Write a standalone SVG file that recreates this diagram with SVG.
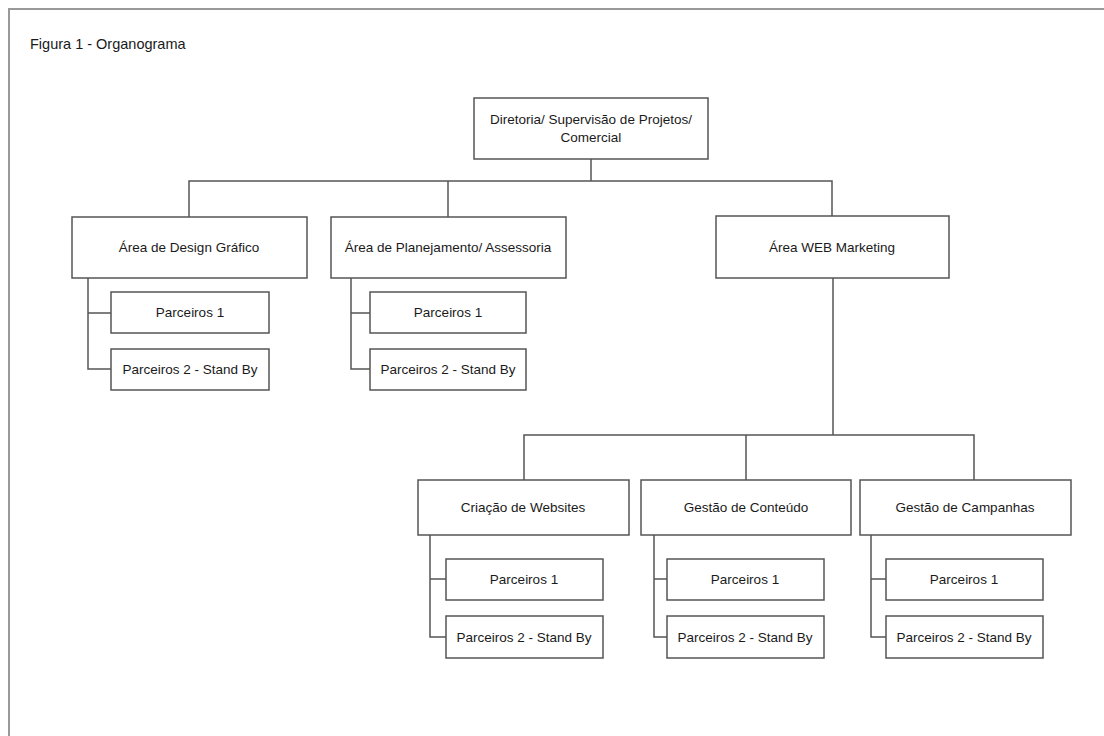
<svg xmlns="http://www.w3.org/2000/svg" width="1104" height="736" viewBox="0 0 1104 736">
<style>
.box{fill:#fff;stroke:#555;stroke-width:1.5}
.ln{fill:none;stroke:#555;stroke-width:1.5}
text{font-family:"Liberation Sans",Arial,sans-serif;font-size:13.5px;fill:#1a1a1a;text-anchor:middle;dominant-baseline:central}
</style>
<rect x="0" y="0" width="1104" height="736" fill="#fff"/>
<rect x="9" y="9" width="1110" height="740" fill="none" stroke="#999" stroke-width="2"/>
<text x="30" y="44" style="text-anchor:start;font-size:14.5px">Figura 1 - Organograma</text>
<g id="connectors">
<path class="ln" d="M591 159V181M189 217V181H832V217M448 181V217"/>
<path class="ln" d="M833 278V435M524 480V435H974V480M746 435V480"/>
<path class="ln" d="M88 278V369H111M88 313H111"/>
<path class="ln" d="M351 278V369H370M351 313H370"/>
<path class="ln" d="M430 535V637H446M430 579H446"/>
<path class="ln" d="M654 535V637H667M654 579H667"/>
<path class="ln" d="M871 535V637H886M871 579H886"/>
</g>
<g id="root"><rect class="box" x="474" y="98" width="234" height="61"/><text x="591" y="119">Diretoria/ Supervisão de Projetos/</text><text x="591" y="137">Comercial</text></g>
<g id="design"><rect class="box" x="72" y="217" width="235" height="61"/><text x="189" y="247">Área de Design Gráfico</text></g>
<g id="design-p1"><rect class="box" x="111" y="292" width="158" height="41"/><text x="190" y="312">Parceiros 1</text></g>
<g id="design-p2"><rect class="box" x="111" y="349" width="158" height="41"/><text x="190" y="369">Parceiros 2 - Stand By</text></g>
<g id="plan"><rect class="box" x="331" y="217" width="235" height="61"/><text x="448" y="247">Área de Planejamento/ Assessoria</text></g>
<g id="plan-p1"><rect class="box" x="370" y="292" width="156" height="41"/><text x="448" y="312">Parceiros 1</text></g>
<g id="plan-p2"><rect class="box" x="370" y="349" width="156" height="41"/><text x="448" y="369">Parceiros 2 - Stand By</text></g>
<g id="web"><rect class="box" x="716" y="216" width="233" height="62"/><text x="832" y="247">Área WEB Marketing</text></g>
<g id="sites"><rect class="box" x="418" y="480" width="211" height="55"/><text x="523" y="507">Criação de Websites</text></g>
<g id="sites-p1"><rect class="box" x="446" y="559" width="157" height="41"/><text x="524" y="579">Parceiros 1</text></g>
<g id="sites-p2"><rect class="box" x="446" y="616" width="157" height="42"/><text x="524" y="637">Parceiros 2 - Stand By</text></g>
<g id="conteudo"><rect class="box" x="641" y="480" width="210" height="55"/><text x="746" y="507">Gestão de Conteúdo</text></g>
<g id="conteudo-p1"><rect class="box" x="667" y="559" width="157" height="41"/><text x="745" y="579">Parceiros 1</text></g>
<g id="conteudo-p2"><rect class="box" x="667" y="616" width="157" height="42"/><text x="745" y="637">Parceiros 2 - Stand By</text></g>
<g id="campanhas"><rect class="box" x="860" y="480" width="211" height="55"/><text x="965" y="507">Gestão de Campanhas</text></g>
<g id="campanhas-p1"><rect class="box" x="886" y="559" width="157" height="41"/><text x="964" y="579">Parceiros 1</text></g>
<g id="campanhas-p2"><rect class="box" x="886" y="616" width="157" height="42"/><text x="964" y="637">Parceiros 2 - Stand By</text></g>
</svg>
